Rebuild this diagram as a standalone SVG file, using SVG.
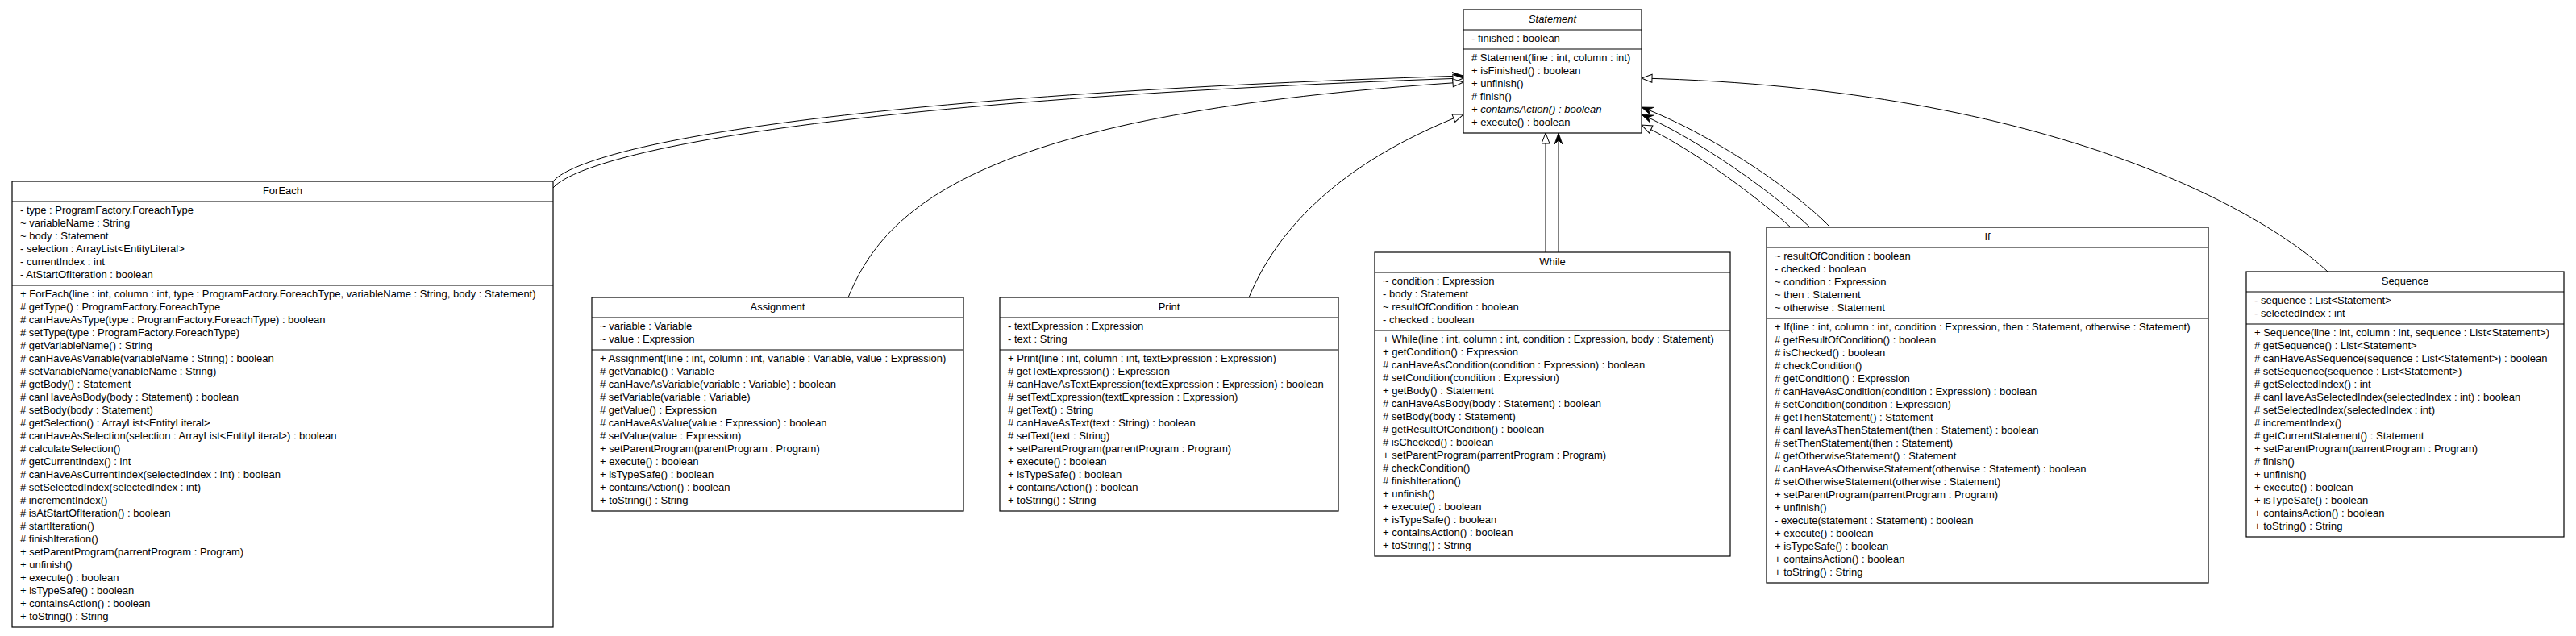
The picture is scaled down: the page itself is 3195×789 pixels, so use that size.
<svg xmlns="http://www.w3.org/2000/svg" width="3195" height="789" viewBox="0 0 3195 789">
<style>
.box{fill:#fff;stroke:#000;stroke-width:1.2}
.dv{stroke:#000;stroke-width:1.2}
.t{font-family:"Liberation Sans",Arial,Helvetica,sans-serif;font-size:13px;fill:#000}
.n{text-anchor:middle}
.i{font-style:italic}
.c{fill:none;stroke:#000;stroke-width:1}
.g{marker-end:url(#gen)}
.v{marker-end:url(#vee)}
</style>
<defs>
<marker id="gen" markerWidth="16" markerHeight="12" refX="14" refY="6" orient="auto" markerUnits="userSpaceOnUse"><path d="M1,1 L14,6 L1,11 Z" fill="#fff" stroke="#000" stroke-width="1"/></marker>
<marker id="vee" markerWidth="16" markerHeight="12" refX="14" refY="6" orient="auto" markerUnits="userSpaceOnUse"><path d="M0,1 L14,6 L0,11 L5,6 Z" fill="#000" stroke="#000" stroke-width="0.8"/></marker>
</defs>
<rect width="3195" height="789" fill="#fff"/>
<g id="connectors">
<path class="c v" d="M686,225 C720,185 1000,120 1815,94"/>
<path class="c g" d="M686,233 C722,192 1000,126 1815,97"/>
<path class="c g" d="M1052,369 C1100,250 1230,140 1815,102"/>
<path class="c g" d="M1549,369 C1590,270 1680,195 1815,142"/>
<path class="c g" d="M1917,313 L1917,165"/>
<path class="c v" d="M1933,313 L1933,165"/>
<path class="c g" d="M2221,282 C2180,245 2100,185 2036,155"/>
<path class="c v" d="M2245,282 C2200,240 2110,175 2036,142"/>
<path class="c v" d="M2270,282 C2225,235 2120,165 2036,133"/>
<path class="c g" d="M2887,337 C2810,265 2550,110 2036,97"/>
</g>
<g id="Statement">
<rect class="box" x="1815" y="12" width="221" height="153"/>
<line class="dv" x1="1815" y1="37" x2="2036" y2="37"/>
<line class="dv" x1="1815" y1="61" x2="2036" y2="61"/>
<text class="t n i" x="1925.5" y="27.5">Statement</text>
<text class="t" x="1825" y="52">- finished : boolean</text>
<text class="t" x="1825" y="76"><tspan x="1825" dy="0"># Statement(line : int, column : int)</tspan><tspan x="1825" dy="16">+ isFinished() : boolean</tspan><tspan x="1825" dy="16">+ unfinish()</tspan><tspan x="1825" dy="16"># finish()</tspan><tspan x="1825" dy="16" class="i">+ containsAction() : boolean</tspan><tspan x="1825" dy="16">+ execute() : boolean</tspan></text>
</g>
<g id="ForEach">
<rect class="box" x="15" y="225" width="671" height="553"/>
<line class="dv" x1="15" y1="250" x2="686" y2="250"/>
<line class="dv" x1="15" y1="354" x2="686" y2="354"/>
<text class="t n" x="350.5" y="240.5">ForEach</text>
<text class="t" x="25" y="265"><tspan x="25" dy="0">- type : ProgramFactory.ForeachType</tspan><tspan x="25" dy="16">~ variableName : String</tspan><tspan x="25" dy="16">~ body : Statement</tspan><tspan x="25" dy="16">- selection : ArrayList&lt;EntityLiteral&gt;</tspan><tspan x="25" dy="16">- currentIndex : int</tspan><tspan x="25" dy="16">- AtStartOfIteration : boolean</tspan></text>
<text class="t" x="25" y="369"><tspan x="25" dy="0">+ ForEach(line : int, column : int, type : ProgramFactory.ForeachType, variableName : String, body : Statement)</tspan><tspan x="25" dy="16"># getType() : ProgramFactory.ForeachType</tspan><tspan x="25" dy="16"># canHaveAsType(type : ProgramFactory.ForeachType) : boolean</tspan><tspan x="25" dy="16"># setType(type : ProgramFactory.ForeachType)</tspan><tspan x="25" dy="16"># getVariableName() : String</tspan><tspan x="25" dy="16"># canHaveAsVariable(variableName : String) : boolean</tspan><tspan x="25" dy="16"># setVariableName(variableName : String)</tspan><tspan x="25" dy="16"># getBody() : Statement</tspan><tspan x="25" dy="16"># canHaveAsBody(body : Statement) : boolean</tspan><tspan x="25" dy="16"># setBody(body : Statement)</tspan><tspan x="25" dy="16"># getSelection() : ArrayList&lt;EntityLiteral&gt;</tspan><tspan x="25" dy="16"># canHaveAsSelection(selection : ArrayList&lt;EntityLiteral&gt;) : boolean</tspan><tspan x="25" dy="16"># calculateSelection()</tspan><tspan x="25" dy="16"># getCurrentIndex() : int</tspan><tspan x="25" dy="16"># canHaveAsCurrentIndex(selectedIndex : int) : boolean</tspan><tspan x="25" dy="16"># setSelectedIndex(selectedIndex : int)</tspan><tspan x="25" dy="16"># incrementIndex()</tspan><tspan x="25" dy="16"># isAtStartOfIteration() : boolean</tspan><tspan x="25" dy="16"># startIteration()</tspan><tspan x="25" dy="16"># finishIteration()</tspan><tspan x="25" dy="16">+ setParentProgram(parrentProgram : Program)</tspan><tspan x="25" dy="16">+ unfinish()</tspan><tspan x="25" dy="16">+ execute() : boolean</tspan><tspan x="25" dy="16">+ isTypeSafe() : boolean</tspan><tspan x="25" dy="16">+ containsAction() : boolean</tspan><tspan x="25" dy="16">+ toString() : String</tspan></text>
</g>
<g id="Assignment">
<rect class="box" x="734" y="369" width="461" height="265"/>
<line class="dv" x1="734" y1="394" x2="1195" y2="394"/>
<line class="dv" x1="734" y1="434" x2="1195" y2="434"/>
<text class="t n" x="964.5" y="384.5">Assignment</text>
<text class="t" x="744" y="409"><tspan x="744" dy="0">~ variable : Variable</tspan><tspan x="744" dy="16">~ value : Expression</tspan></text>
<text class="t" x="744" y="449"><tspan x="744" dy="0">+ Assignment(line : int, column : int, variable : Variable, value : Expression)</tspan><tspan x="744" dy="16"># getVariable() : Variable</tspan><tspan x="744" dy="16"># canHaveAsVariable(variable : Variable) : boolean</tspan><tspan x="744" dy="16"># setVariable(variable : Variable)</tspan><tspan x="744" dy="16"># getValue() : Expression</tspan><tspan x="744" dy="16"># canHaveAsValue(value : Expression) : boolean</tspan><tspan x="744" dy="16"># setValue(value : Expression)</tspan><tspan x="744" dy="16">+ setParentProgram(parentProgram : Program)</tspan><tspan x="744" dy="16">+ execute() : boolean</tspan><tspan x="744" dy="16">+ isTypeSafe() : boolean</tspan><tspan x="744" dy="16">+ containsAction() : boolean</tspan><tspan x="744" dy="16">+ toString() : String</tspan></text>
</g>
<g id="Print">
<rect class="box" x="1240" y="369" width="420" height="265"/>
<line class="dv" x1="1240" y1="394" x2="1660" y2="394"/>
<line class="dv" x1="1240" y1="434" x2="1660" y2="434"/>
<text class="t n" x="1450" y="384.5">Print</text>
<text class="t" x="1250" y="409"><tspan x="1250" dy="0">- textExpression : Expression</tspan><tspan x="1250" dy="16">- text : String</tspan></text>
<text class="t" x="1250" y="449"><tspan x="1250" dy="0">+ Print(line : int, column : int, textExpression : Expression)</tspan><tspan x="1250" dy="16"># getTextExpression() : Expression</tspan><tspan x="1250" dy="16"># canHaveAsTextExpression(textExpression : Expression) : boolean</tspan><tspan x="1250" dy="16"># setTextExpression(textExpression : Expression)</tspan><tspan x="1250" dy="16"># getText() : String</tspan><tspan x="1250" dy="16"># canHaveAsText(text : String) : boolean</tspan><tspan x="1250" dy="16"># setText(text : String)</tspan><tspan x="1250" dy="16">+ setParentProgram(parrentProgram : Program)</tspan><tspan x="1250" dy="16">+ execute() : boolean</tspan><tspan x="1250" dy="16">+ isTypeSafe() : boolean</tspan><tspan x="1250" dy="16">+ containsAction() : boolean</tspan><tspan x="1250" dy="16">+ toString() : String</tspan></text>
</g>
<g id="While">
<rect class="box" x="1705" y="313" width="441" height="377"/>
<line class="dv" x1="1705" y1="338" x2="2146" y2="338"/>
<line class="dv" x1="1705" y1="410" x2="2146" y2="410"/>
<text class="t n" x="1925.5" y="328.5">While</text>
<text class="t" x="1715" y="353"><tspan x="1715" dy="0">~ condition : Expression</tspan><tspan x="1715" dy="16">- body : Statement</tspan><tspan x="1715" dy="16">~ resultOfCondition : boolean</tspan><tspan x="1715" dy="16">- checked : boolean</tspan></text>
<text class="t" x="1715" y="425"><tspan x="1715" dy="0">+ While(line : int, column : int, condition : Expression, body : Statement)</tspan><tspan x="1715" dy="16">+ getCondition() : Expression</tspan><tspan x="1715" dy="16"># canHaveAsCondition(condition : Expression) : boolean</tspan><tspan x="1715" dy="16"># setCondition(condition : Expression)</tspan><tspan x="1715" dy="16">+ getBody() : Statement</tspan><tspan x="1715" dy="16"># canHaveAsBody(body : Statement) : boolean</tspan><tspan x="1715" dy="16"># setBody(body : Statement)</tspan><tspan x="1715" dy="16"># getResultOfCondition() : boolean</tspan><tspan x="1715" dy="16"># isChecked() : boolean</tspan><tspan x="1715" dy="16">+ setParentProgram(parrentProgram : Program)</tspan><tspan x="1715" dy="16"># checkCondition()</tspan><tspan x="1715" dy="16"># finishIteration()</tspan><tspan x="1715" dy="16">+ unfinish()</tspan><tspan x="1715" dy="16">+ execute() : boolean</tspan><tspan x="1715" dy="16">+ isTypeSafe() : boolean</tspan><tspan x="1715" dy="16">+ containsAction() : boolean</tspan><tspan x="1715" dy="16">+ toString() : String</tspan></text>
</g>
<g id="If">
<rect class="box" x="2191" y="282" width="548" height="441"/>
<line class="dv" x1="2191" y1="307" x2="2739" y2="307"/>
<line class="dv" x1="2191" y1="395" x2="2739" y2="395"/>
<text class="t n" x="2465" y="297.5">If</text>
<text class="t" x="2201" y="322"><tspan x="2201" dy="0">~ resultOfCondition : boolean</tspan><tspan x="2201" dy="16">- checked : boolean</tspan><tspan x="2201" dy="16">~ condition : Expression</tspan><tspan x="2201" dy="16">~ then : Statement</tspan><tspan x="2201" dy="16">~ otherwise : Statement</tspan></text>
<text class="t" x="2201" y="410"><tspan x="2201" dy="0">+ If(line : int, column : int, condition : Expression, then : Statement, otherwise : Statement)</tspan><tspan x="2201" dy="16"># getResultOfCondition() : boolean</tspan><tspan x="2201" dy="16"># isChecked() : boolean</tspan><tspan x="2201" dy="16"># checkCondition()</tspan><tspan x="2201" dy="16"># getCondition() : Expression</tspan><tspan x="2201" dy="16"># canHaveAsCondition(condition : Expression) : boolean</tspan><tspan x="2201" dy="16"># setCondition(condition : Expression)</tspan><tspan x="2201" dy="16"># getThenStatement() : Statement</tspan><tspan x="2201" dy="16"># canHaveAsThenStatement(then : Statement) : boolean</tspan><tspan x="2201" dy="16"># setThenStatement(then : Statement)</tspan><tspan x="2201" dy="16"># getOtherwiseStatement() : Statement</tspan><tspan x="2201" dy="16"># canHaveAsOtherwiseStatement(otherwise : Statement) : boolean</tspan><tspan x="2201" dy="16"># setOtherwiseStatement(otherwise : Statement)</tspan><tspan x="2201" dy="16">+ setParentProgram(parrentProgram : Program)</tspan><tspan x="2201" dy="16">+ unfinish()</tspan><tspan x="2201" dy="16">- execute(statement : Statement) : boolean</tspan><tspan x="2201" dy="16">+ execute() : boolean</tspan><tspan x="2201" dy="16">+ isTypeSafe() : boolean</tspan><tspan x="2201" dy="16">+ containsAction() : boolean</tspan><tspan x="2201" dy="16">+ toString() : String</tspan></text>
</g>
<g id="Sequence">
<rect class="box" x="2786" y="337" width="394" height="329"/>
<line class="dv" x1="2786" y1="362" x2="3180" y2="362"/>
<line class="dv" x1="2786" y1="402" x2="3180" y2="402"/>
<text class="t n" x="2983" y="352.5">Sequence</text>
<text class="t" x="2796" y="377"><tspan x="2796" dy="0">- sequence : List&lt;Statement&gt;</tspan><tspan x="2796" dy="16">- selectedIndex : int</tspan></text>
<text class="t" x="2796" y="417"><tspan x="2796" dy="0">+ Sequence(line : int, column : int, sequence : List&lt;Statement&gt;)</tspan><tspan x="2796" dy="16"># getSequence() : List&lt;Statement&gt;</tspan><tspan x="2796" dy="16"># canHaveAsSequence(sequence : List&lt;Statement&gt;) : boolean</tspan><tspan x="2796" dy="16"># setSequence(sequence : List&lt;Statement&gt;)</tspan><tspan x="2796" dy="16"># getSelectedIndex() : int</tspan><tspan x="2796" dy="16"># canHaveAsSelectedIndex(selectedIndex : int) : boolean</tspan><tspan x="2796" dy="16"># setSelectedIndex(selectedIndex : int)</tspan><tspan x="2796" dy="16"># incrementIndex()</tspan><tspan x="2796" dy="16"># getCurrentStatement() : Statement</tspan><tspan x="2796" dy="16">+ setParentProgram(parrentProgram : Program)</tspan><tspan x="2796" dy="16"># finish()</tspan><tspan x="2796" dy="16">+ unfinish()</tspan><tspan x="2796" dy="16">+ execute() : boolean</tspan><tspan x="2796" dy="16">+ isTypeSafe() : boolean</tspan><tspan x="2796" dy="16">+ containsAction() : boolean</tspan><tspan x="2796" dy="16">+ toString() : String</tspan></text>
</g>
</svg>
